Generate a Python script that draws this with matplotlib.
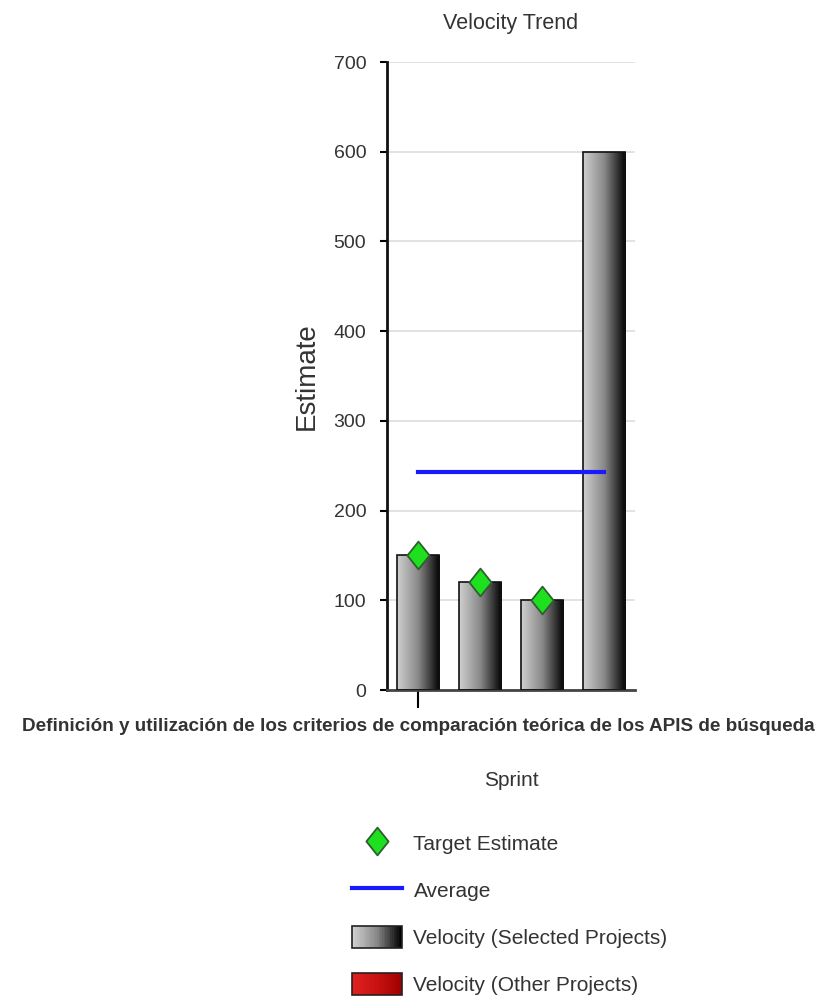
import numpy as np
import matplotlib
matplotlib.use("Agg")
import matplotlib.pyplot as plt
from matplotlib.colors import LinearSegmentedColormap
from matplotlib.legend_handler import HandlerBase
from matplotlib.lines import Line2D
from matplotlib.patches import Rectangle
from matplotlib.path import Path

plt.rcParams['font.family'] = ['Liberation Sans', 'DejaVu Sans']

# ---- data ----
sprints = ["Definición y utilización de los criterios de comparación teórica de los APIS de búsqueda",
           "", "", ""]
velocity_selected = [150, 120, 100, 600]
target_estimate = [150, 120, 100, None]
y_ticks = [0, 100, 200, 300, 400, 500, 600, 700]

average = float(np.mean(velocity_selected))

gray_cmap = LinearSegmentedColormap.from_list("bar_gray", ["#d0d0d0", "#888888", "#000000"])
red_cmap = LinearSegmentedColormap.from_list("bar_red", ["#e02020", "#c81212", "#a00000"])

# tall diamond marker
diamond = Path([(0, 1), (0.8, 0), (0, -1), (-0.8, 0), (0, 1)],
               [Path.MOVETO, Path.LINETO, Path.LINETO, Path.LINETO, Path.CLOSEPOLY])

fig = plt.figure(figsize=(8.24, 10.05), dpi=100)
ax = fig.add_axes([0.4697, 0.3134, 0.3010, 0.6249])

x = np.arange(len(velocity_selected))
width = 0.68
bars = ax.bar(x, velocity_selected, width=width, color="none", edgecolor="#111111",
              linewidth=1.2, zorder=3)

grad = np.linspace(0, 1, 256).reshape(1, -1)
for rect in bars:
    x0 = rect.get_x()
    img = ax.imshow(grad, cmap=gray_cmap, aspect="auto", zorder=2.5,
                    extent=[x0, x0 + rect.get_width(), 0, rect.get_height()])
    img.set_clip_path(rect)

# average line
ax.plot([x[0], x[-1]], [average, average], color="#1a1aff", linewidth=3, zorder=4)

# target diamonds
tx = [xi for xi, t in zip(x, target_estimate) if t is not None]
ty = [t for t in target_estimate if t is not None]
ax.plot(tx, ty, linestyle="none", marker=diamond, markersize=20,
        markerfacecolor="#1fe01f", markeredgecolor="#2f5f2f", markeredgewidth=1.3, zorder=5)

ax.set_xlim(-0.5, 3.5)
ax.set_ylim(0, 700)
ax.set_yticks(y_ticks)
ax.set_yticklabels([str(v) for v in y_ticks], fontsize=14, color="#333333")
ax.set_xticks([0])
ax.set_xticklabels([sprints[0]], fontsize=13.6, fontweight="bold", color="#333333")
ax.tick_params(axis="y", length=5, width=1.5, direction="out", pad=10)
ax.tick_params(axis="x", length=13, width=1.5, direction="out", pad=7)

ax.grid(axis="y", color="#dddddd", linewidth=1.2, zorder=0)
ax.set_axisbelow(True)
for side in ("top", "right"):
    ax.spines[side].set_visible(False)
ax.spines["left"].set_linewidth(2)
ax.spines["bottom"].set_linewidth(2)
ax.spines["left"].set_color("#111111")
ax.spines["bottom"].set_color("#444444")

ax.set_title("Velocity Trend", fontsize=15.5, color="#333333", pad=24)
ax.set_ylabel("Estimate", fontsize=20, color="#333333", labelpad=10)
ax.set_xlabel("Sprint", fontsize=15, color="#333333", labelpad=26)


class GradientHandler(HandlerBase):
    def __init__(self, cmap, n=30):
        super().__init__()
        self.cmap = cmap
        self.n = n

    def create_artists(self, legend, orig_handle, xdescent, ydescent, width, height,
                       fontsize, trans):
        arts = []
        for i in range(self.n):
            arts.append(Rectangle((-xdescent + width * i / self.n, -ydescent),
                                  width / self.n + 0.3, height,
                                  facecolor=self.cmap(i / (self.n - 1)),
                                  edgecolor="none", transform=trans))
        arts.append(Rectangle((-xdescent, -ydescent), width, height, fill=False,
                              edgecolor="#222222", linewidth=1.2, transform=trans))
        return arts


h_target = Line2D([], [], linestyle="none", marker=diamond, markersize=20,
                  markerfacecolor="#1fe01f", markeredgecolor="#2f5f2f", markeredgewidth=1.3)
h_avg = Line2D([], [], color="#1a1aff", linewidth=3)
h_sel = Rectangle((0, 0), 1, 1)
h_oth = Rectangle((0, 0), 1, 1)

fig.legend([h_target, h_avg, h_sel, h_oth],
           ["Target Estimate", "Average", "Velocity (Selected Projects)", "Velocity (Other Projects)"],
           handler_map={h_sel: GradientHandler(gray_cmap), h_oth: GradientHandler(red_cmap)},
           loc="upper left", bbox_to_anchor=(352 / 824, 1 - 832 / 1005),
           frameon=False, fontsize=15, handlelength=2.4, handleheight=1.3,
           handletextpad=0.55, labelspacing=1.16, borderpad=0, borderaxespad=0,
           labelcolor="#333333")

fig.savefig("out.png", dpi=100)
